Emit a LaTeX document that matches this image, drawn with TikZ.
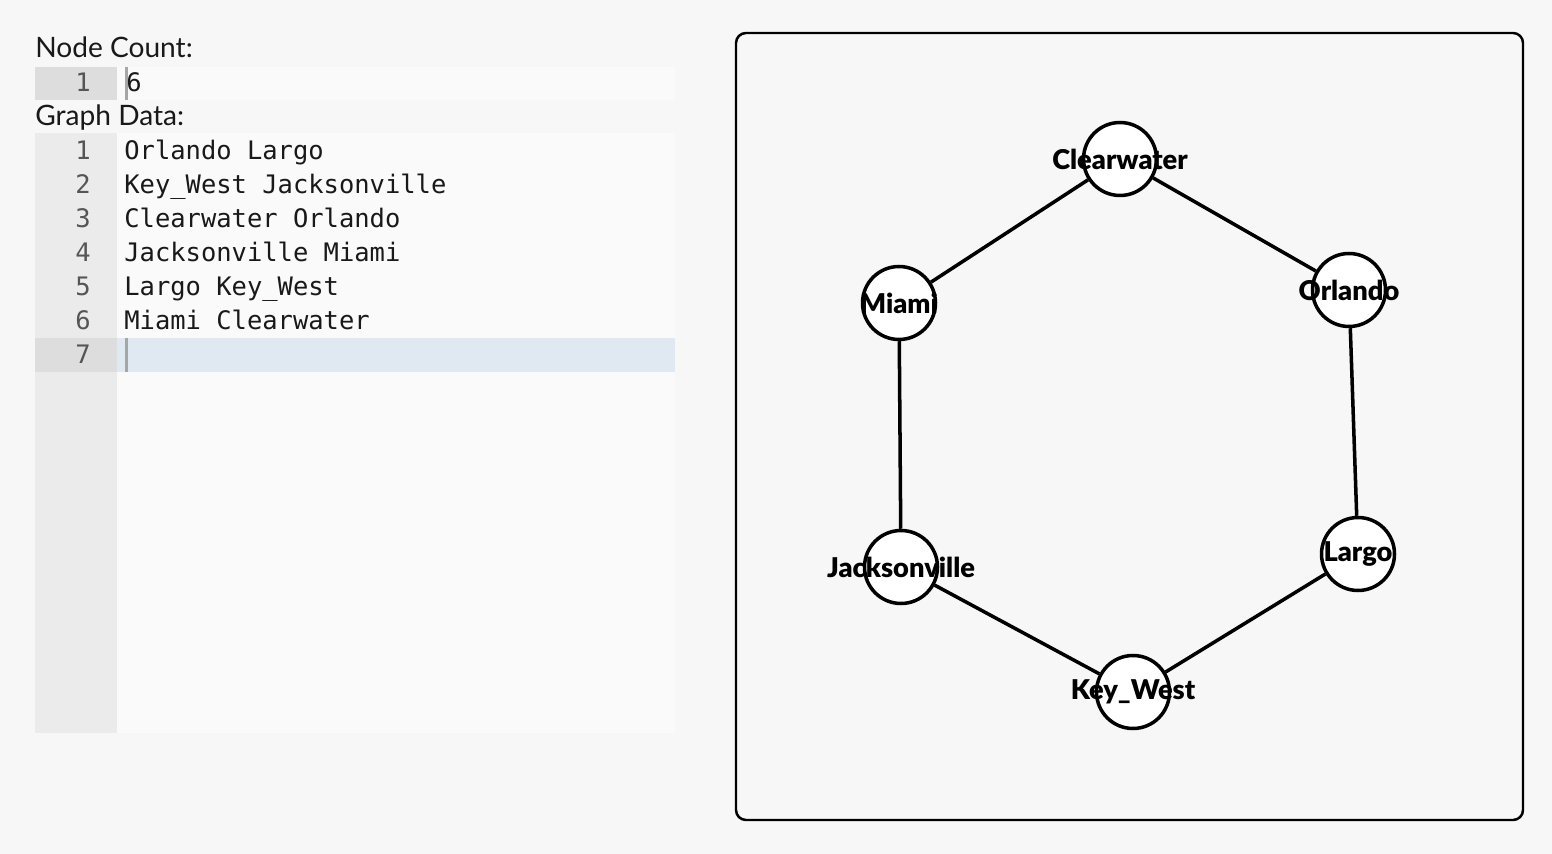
\documentclass[tikz,border=0pt]{standalone}
\usepackage{fontspec}
\setmainfont{Lato}
\newfontfamily\codefont{DejaVu Sans Mono}
\newfontfamily\cityfont{Lato Black}
\usetikzlibrary{positioning}

\definecolor{pagebg}{HTML}{F7F7F7}
\definecolor{editbg}{HTML}{FAFAFA}
\definecolor{gutter}{HTML}{EBEBEB}
\definecolor{gutteract}{HTML}{DDDDDD}
\definecolor{lineact}{HTML}{E0E8F1}
\definecolor{numgray}{HTML}{555555}

\tikzset{
  heading/.style={anchor=base west, inner sep=0pt, font=\fontsize{16}{16}\selectfont, text=black!90},
  code/.style={anchor=base west, inner sep=0pt, font=\codefont\fontsize{14.5}{14.5}\selectfont, text=black!90},
  lineno/.style={anchor=base east, inner sep=0pt, font=\codefont\fontsize{14.5}{14.5}\selectfont, text=numgray},
  city/.style={circle, draw, line width=2pt, fill=white, minimum size=1.46cm, inner sep=0pt,
    label={[font=\cityfont\fontsize{15.5}{15.5}\selectfont, inner sep=0pt]center:#1}},
  road/.style={line width=2pt}
}

\begin{document}
\begin{tikzpicture}[x=0.02cm, y=-0.02cm]
  \fill[pagebg] (0,0) rectangle (1552,854);
  \useasboundingbox (0,0) rectangle (1552,854);

  % node count editor
  \node[heading] (nclabel) at (35,58) {Node Count:};
  \fill[editbg] (117,67) rectangle (675,100);
  \fill[gutteract] (35,67) rectangle (117,100);
  \fill[black!35] (125,67) rectangle (128,100);
  \node[lineno] (ncnum) at (91,92) {1};
  \node[code] (ncval) at (126,92) {6};

  % graph data editor
  \node[heading] (gdlabel) at (35,126) {Graph Data:};
  \fill[editbg] (117,133) rectangle (675,733);
  \fill[gutter] (35,133) rectangle (117,733);
  \fill[lineact] (117,338) rectangle (675,372);
  \fill[gutteract] (35,338) rectangle (117,372);
  \fill[black!35] (125,338) rectangle (128,372);
  \foreach \n/\txt in {1/Orlando Largo, 2/Key\_West Jacksonville, 3/Clearwater Orlando,
                       4/Jacksonville Miami, 5/Largo Key\_West, 6/Miami Clearwater}
  {
    \node[lineno] (num\n) at (91,126+34*\n) {\n};
    \node[code] (line\n) at (124,126+34*\n) {\txt};
  }
  \node[lineno] (num7) at (91,364) {7};

  % graph view
  \draw[line width=1.4pt, rounded corners=0.2cm] (736,33) rectangle (1523,820);

  \node[city=Clearwater] (cw) at (1120,159) {};
  \node[city=Orlando] (or) at (1349,290) {};
  \node[city=Largo] (la) at (1358,554) {};
  \node[city=Key\_West] (kw) at (1133,692) {};
  \node[city=Jacksonville] (ja) at (901,567) {};
  \node[city=Miami] (mi) at (899,303) {};

  \path[road]
  (or) edge (la)
  (kw) edge (ja)
  (cw) edge (or)
  (ja) edge (mi)
  (la) edge (kw)
  (mi) edge (cw)
  ;
\end{tikzpicture}
\end{document}
